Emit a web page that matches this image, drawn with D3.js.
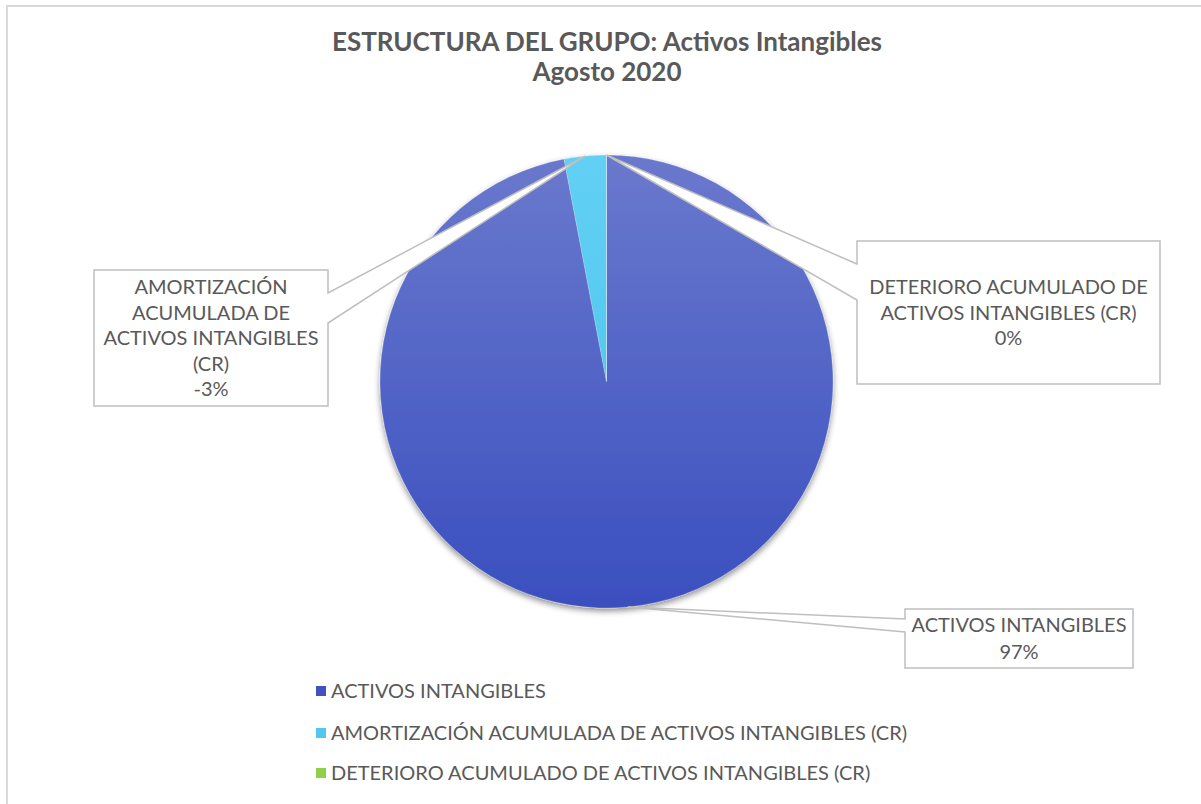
<!DOCTYPE html>
<html>
<head>
<meta charset="utf-8">
<script src="https://cdn.jsdelivr.net/npm/d3@7"></script>
<style>
  html, body { margin: 0; padding: 0; background: #fff; }
  svg { display: block; }
</style>
</head>
<body>
<svg id="chart" width="1201" height="804"></svg>
<script>
// ---------- data ----------
const categories = [
  "ACTIVOS INTANGIBLES",
  "AMORTIZACIÓN ACUMULADA DE ACTIVOS INTANGIBLES (CR)",
  "DETERIORO ACUMULADO DE ACTIVOS INTANGIBLES (CR)"
];
const values = [97, -3, 0];
const labelLines = [
  ["ACTIVOS INTANGIBLES"],
  ["AMORTIZACIÓN", "ACUMULADA DE", "ACTIVOS INTANGIBLES", "(CR)"],
  ["DETERIORO ACUMULADO DE", "ACTIVOS INTANGIBLES (CR)"]
];
const titleLines = ["ESTRUCTURA DEL GRUPO: Activos Intangibles", "Agosto 2020"];

// ---------- styling / layout ----------
const sliceTop = ["#6a79cd", "#62d0f4", "#9bd65a"];
const sliceBottom = ["#3a4fbf", "#46c0ec", "#86c640"];
const legendColors = ["#3f52bf", "#52c8f0", "#8fd048"];
const textColor = "#595959";
const boxStroke = "#bfbfbf";
const cx = 606.5, cy = 381.5, R = 226.5;

const callouts = [
  { x: 905, y: 609, w: 228, h: 59, side: "left", b1: 619, b2: 632, lineH: 27 },
  { x: 94, y: 270, w: 234, h: 136, side: "right", b1: 293, b2: 323, lineH: 25.5 },
  { x: 857, y: 241, w: 303, h: 143, side: "left", b1: 264, b2: 300, lineH: 25.5 }
];

const svg = d3.select("#chart");
const defs = svg.append("defs");

// chart area border (top + left visible)
svg.append("path")
  .attr("d", "M7,805 V6 H1202")
  .attr("fill", "none").attr("stroke", "#d9d9d9").attr("stroke-width", 2);

// title
const title = svg.append("text")
  .attr("text-anchor", "middle")
  .attr("font-family", "Lato, 'Open Sans', sans-serif")
  .attr("font-weight", 700)
  .attr("font-size", 26)
  .attr("fill", textColor);
titleLines.forEach((t, i) => {
  title.append("tspan").attr("x", 607).attr("y", 51 + i * 30).text(t);
});

// gradients (relative to pie group)
categories.forEach((c, i) => {
  const g = defs.append("linearGradient").attr("id", "grad" + i)
    .attr("gradientUnits", "userSpaceOnUse")
    .attr("x1", 0).attr("y1", -R).attr("x2", 0).attr("y2", R);
  g.append("stop").attr("offset", "0%").attr("stop-color", sliceTop[i]);
  g.append("stop").attr("offset", "100%").attr("stop-color", sliceBottom[i]);
});

// shadow
const f = defs.append("filter").attr("id", "shadow")
  .attr("x", "-20%").attr("y", "-20%").attr("width", "140%").attr("height", "140%");
f.append("feGaussianBlur").attr("in", "SourceAlpha").attr("stdDeviation", 3).attr("result", "b");
f.append("feOffset").attr("in", "b").attr("dx", 0).attr("dy", 3).attr("result", "o");
f.append("feComponentTransfer").attr("in", "o").attr("result", "o2")
  .append("feFuncA").attr("type", "linear").attr("slope", 0.45);
const fm = f.append("feMerge");
fm.append("feMergeNode").attr("in", "o2");
fm.append("feMergeNode").attr("in", "SourceGraphic");

// pie
const pie = d3.pie().value(d => Math.abs(d)).sort(null);
const arcs = pie(values);
const arc = d3.arc().innerRadius(0).outerRadius(R);

const pieG = svg.append("g").attr("transform", `translate(${cx},${cy})`)
  .attr("filter", "url(#shadow)");
pieG.selectAll("path.slice").data(arcs).join("path")
  .attr("class", "slice")
  .attr("d", arc)
  .attr("fill", (d, i) => `url(#grad${i})`)
  .attr("stroke", "rgba(255,255,255,0.35)").attr("stroke-width", 0.6);

// callouts
const total = d3.sum(values, v => Math.abs(v));
const pct = d3.formatLocale({ decimal: ",", thousands: ".", grouping: [3], currency: ["", "€"], minus: "-" }).format(".0%");
const labelFont = "Lato, 'Open Sans', sans-serif";

arcs.forEach((d, i) => {
  const co = callouts[i];
  const mid = (d.startAngle + d.endAngle) / 2;
  const tx = cx + R * Math.sin(mid);
  const ty = cy - R * Math.cos(mid);
  const L = co.x, T = co.y, Rr = co.x + co.w, B = co.y + co.h;
  let p;
  if (co.side === "right") {
    p = `M${L},${T} H${Rr} V${co.b1} L${tx},${ty} L${Rr},${co.b2} V${B} H${L} Z`;
  } else {
    p = `M${L},${T} H${Rr} V${B} H${L} V${co.b2} L${tx},${ty} L${L},${co.b1} Z`;
  }
  svg.append("path").attr("d", p)
    .attr("fill", "#fff").attr("stroke", boxStroke).attr("stroke-width", 1.5)
    .attr("stroke-linejoin", "miter");

  const lines = labelLines[i].concat([pct(values[i] / total)]);
  const n = lines.length;
  const midY = T + co.h / 2;
  const t = svg.append("text")
    .attr("text-anchor", "middle")
    .attr("font-family", labelFont)
    .attr("font-size", 20)
    .attr("fill", textColor);
  lines.forEach((ln, k) => {
    t.append("tspan")
      .attr("x", L + co.w / 2)
      .attr("y", midY + (k - (n - 1) / 2) * co.lineH)
      .attr("dy", "0.35em")
      .text(ln);
  });
});

// legend
const legend = svg.append("g");
const legendY = [691, 733, 773];
categories.forEach((c, i) => {
  legend.append("rect")
    .attr("x", 316).attr("y", legendY[i] - 5).attr("width", 10).attr("height", 10)
    .attr("fill", legendColors[i]);
  legend.append("text")
    .attr("x", 331).attr("y", legendY[i]).attr("dy", "0.35em")
    .attr("font-family", labelFont).attr("font-size", 20)
    .attr("fill", textColor)
    .text(c);
});
</script>
</body>
</html>
